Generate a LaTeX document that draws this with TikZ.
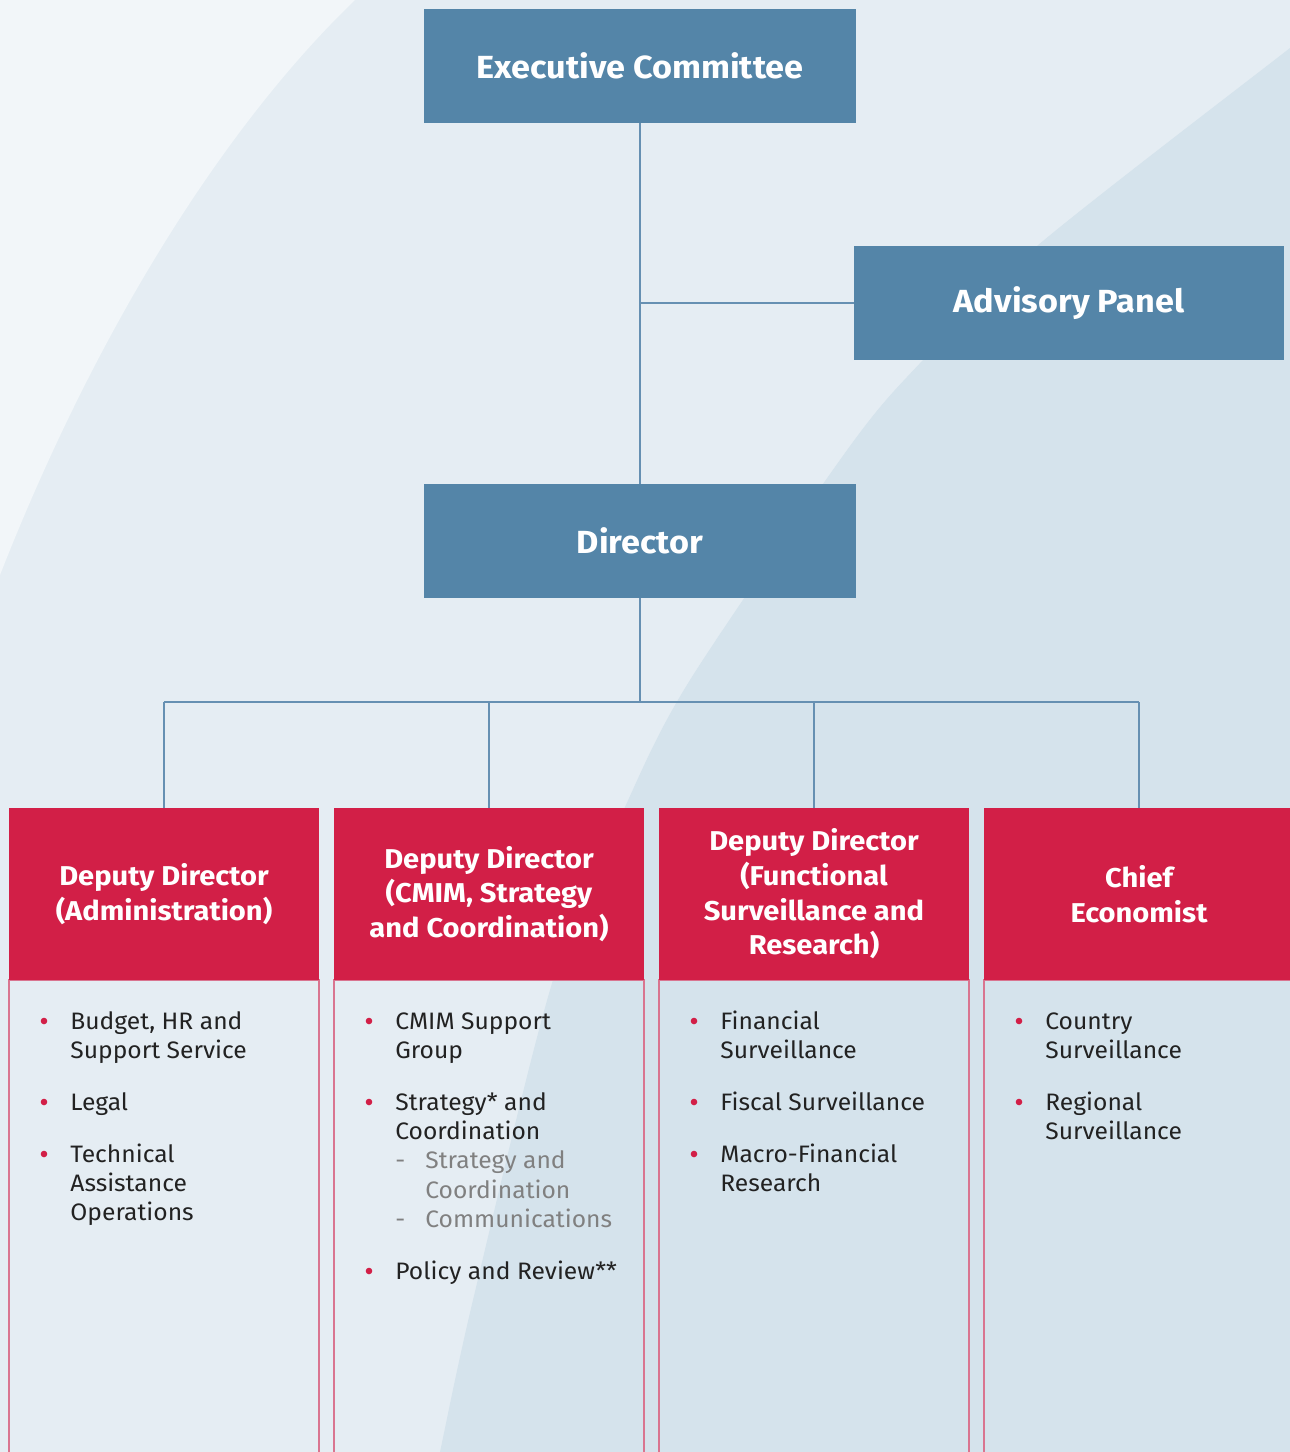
\documentclass[tikz,border=0pt]{standalone}
\usepackage{fontspec}
\setmainfont{Fira Sans}
\newfontfamily\hdfont[FakeStretch=1.07]{Fira Sans}
\newfontfamily\itfont[FakeStretch=1.035]{Fira Sans}
\definecolor{bgA}{HTML}{F2F6F9}
\definecolor{bgB}{HTML}{E5EDF3}
\definecolor{bgC}{HTML}{D5E3EC}
\definecolor{boxblue}{HTML}{5485A8}
\definecolor{hdred}{HTML}{D21F47}
\definecolor{brdred}{HTML}{D97590}
\definecolor{conncol}{HTML}{6690B2}
\definecolor{txtdark}{HTML}{222222}
\definecolor{txtgray}{HTML}{808080}
\tikzset{
  bluebox/.style={fill=boxblue, text=white, inner sep=0pt, minimum width=216pt, minimum height=57pt, font=\hdfont\fontsize{16}{19}\selectfont\bfseries},
  hdbox/.style={fill=hdred, text=white, inner sep=0pt, minimum width=155pt, minimum height=86pt, align=center, font=\hdfont\fontsize{13.6}{17.3}\selectfont\bfseries},
  bodybox/.style={draw=brdred, line width=0.6pt, inner sep=0pt, minimum width=155pt, minimum height=245pt},
  conn/.style={draw=conncol, line width=0.75pt},
  itemtxt/.style={anchor=base west, inner sep=0pt, text=txtdark, font=\itfont\fontsize{11.9}{14}\selectfont},
  subtxt/.style={anchor=base west, inner sep=0pt, text=txtgray, font=\itfont\fontsize{11.9}{14}\selectfont},
}
\newcommand\itm[4]{\node[itemtxt] (#1) at (#2,#3+8) {#4};}
\newcommand\sitm[4]{\node[subtxt] (#1) at (#2,#3+8) {#4};}
\newcommand\bul[2]{\fill[hdred] (#1,#2) circle (3.3);}
\newcommand\dsh[3]{\node[subtxt] (#1) at (#2,#3+8) {-};}
\begin{document}
\begin{tikzpicture}[x=0.5pt,y=-0.5pt]
\useasboundingbox (0,0) rectangle (1290,1452);
% background
\fill[bgB] (0,0) rectangle (1290,1452);
\fill[bgA] (0,0) -- (355,0) .. controls (230,120) and (100,320) .. (0,575) -- cycle;
\fill[bgC] plot[smooth] coordinates {(1300,40) (1290,48) (1037,246) (923,360) (850,446) (690,680) (625,807) (553,980) (473,1300) (440,1452) (436,1470)} -- (1300,1470) -- cycle;

% top boxes
\node[bluebox] (exec) at (640,66) {Executive Committee};
\node[bluebox, minimum width=215pt] (adv) at (1069,303) {Advisory Panel};
\node[bluebox] (dir) at (640,541) {Director};

% bottom columns
\foreach \i/\cx in {1/164,2/489,3/814,4/1139}{
  \node[bodybox] (b\i) at (\cx,1225) {};
}
\node[hdbox] (h1) at (164,894) {Deputy Director\\(Administration)};
\node[hdbox] (h2) at (489,894) {Deputy Director\\(CMIM, Strategy\\and Coordination)};
\node[hdbox] (h3) at (814,894) {Deputy Director\\(Functional\\Surveillance and\\Research)};
\node[hdbox] (h4) at (1139,894) {Chief\\Economist};

% connectors
\coordinate (bus) at (640,702);
\draw[conn] (exec.south) -- (dir.north);
\draw[conn] (adv.west) -- (adv.west -| exec.south);
\draw[conn] (dir.south) -- (bus);
\draw[conn] (h1.north |- bus) -- (h4.north |- bus);
\foreach \i in {1,2,3,4}{ \draw[conn] (h\i.north |- bus) -- (h\i.north); }

% column 1
\bul{44}{1021}\bul{44}{1102}\bul{44}{1154}
\itm{c1a}{70}{1021}{Budget, HR and}
\itm{c1b}{70}{1050}{Support Service}
\itm{c1c}{70}{1102}{Legal}
\itm{c1d}{70}{1154}{Technical}
\itm{c1e}{70}{1183}{Assistance}
\itm{c1f}{70}{1212}{Operations}

% column 2
\bul{369}{1021}\bul{369}{1102}\bul{369}{1271}
\itm{c2a}{395}{1021}{CMIM Support}
\itm{c2b}{395}{1050}{Group}
\itm{c2c}{395}{1102}{Strategy* and}
\itm{c2d}{395}{1131}{Coordination}
\dsh{d2a}{395}{1160}
\sitm{c2e}{425}{1160}{Strategy and}
\sitm{c2f}{425}{1190}{Coordination}
\dsh{d2b}{395}{1219}
\sitm{c2g}{425}{1219}{Communications}
\itm{c2h}{395}{1271}{Policy and Review**}

% column 3
\bul{694}{1021}\bul{694}{1102}\bul{694}{1154}
\itm{c3a}{720}{1021}{Financial}
\itm{c3b}{720}{1050}{Surveillance}
\itm{c3c}{720}{1102}{Fiscal Surveillance}
\itm{c3d}{720}{1154}{Macro-Financial}
\itm{c3e}{720}{1183}{Research}

% column 4
\bul{1019}{1021}\bul{1019}{1102}
\itm{c4a}{1045}{1021}{Country}
\itm{c4b}{1045}{1050}{Surveillance}
\itm{c4c}{1045}{1102}{Regional}
\itm{c4d}{1045}{1131}{Surveillance}
\end{tikzpicture}
\end{document}
